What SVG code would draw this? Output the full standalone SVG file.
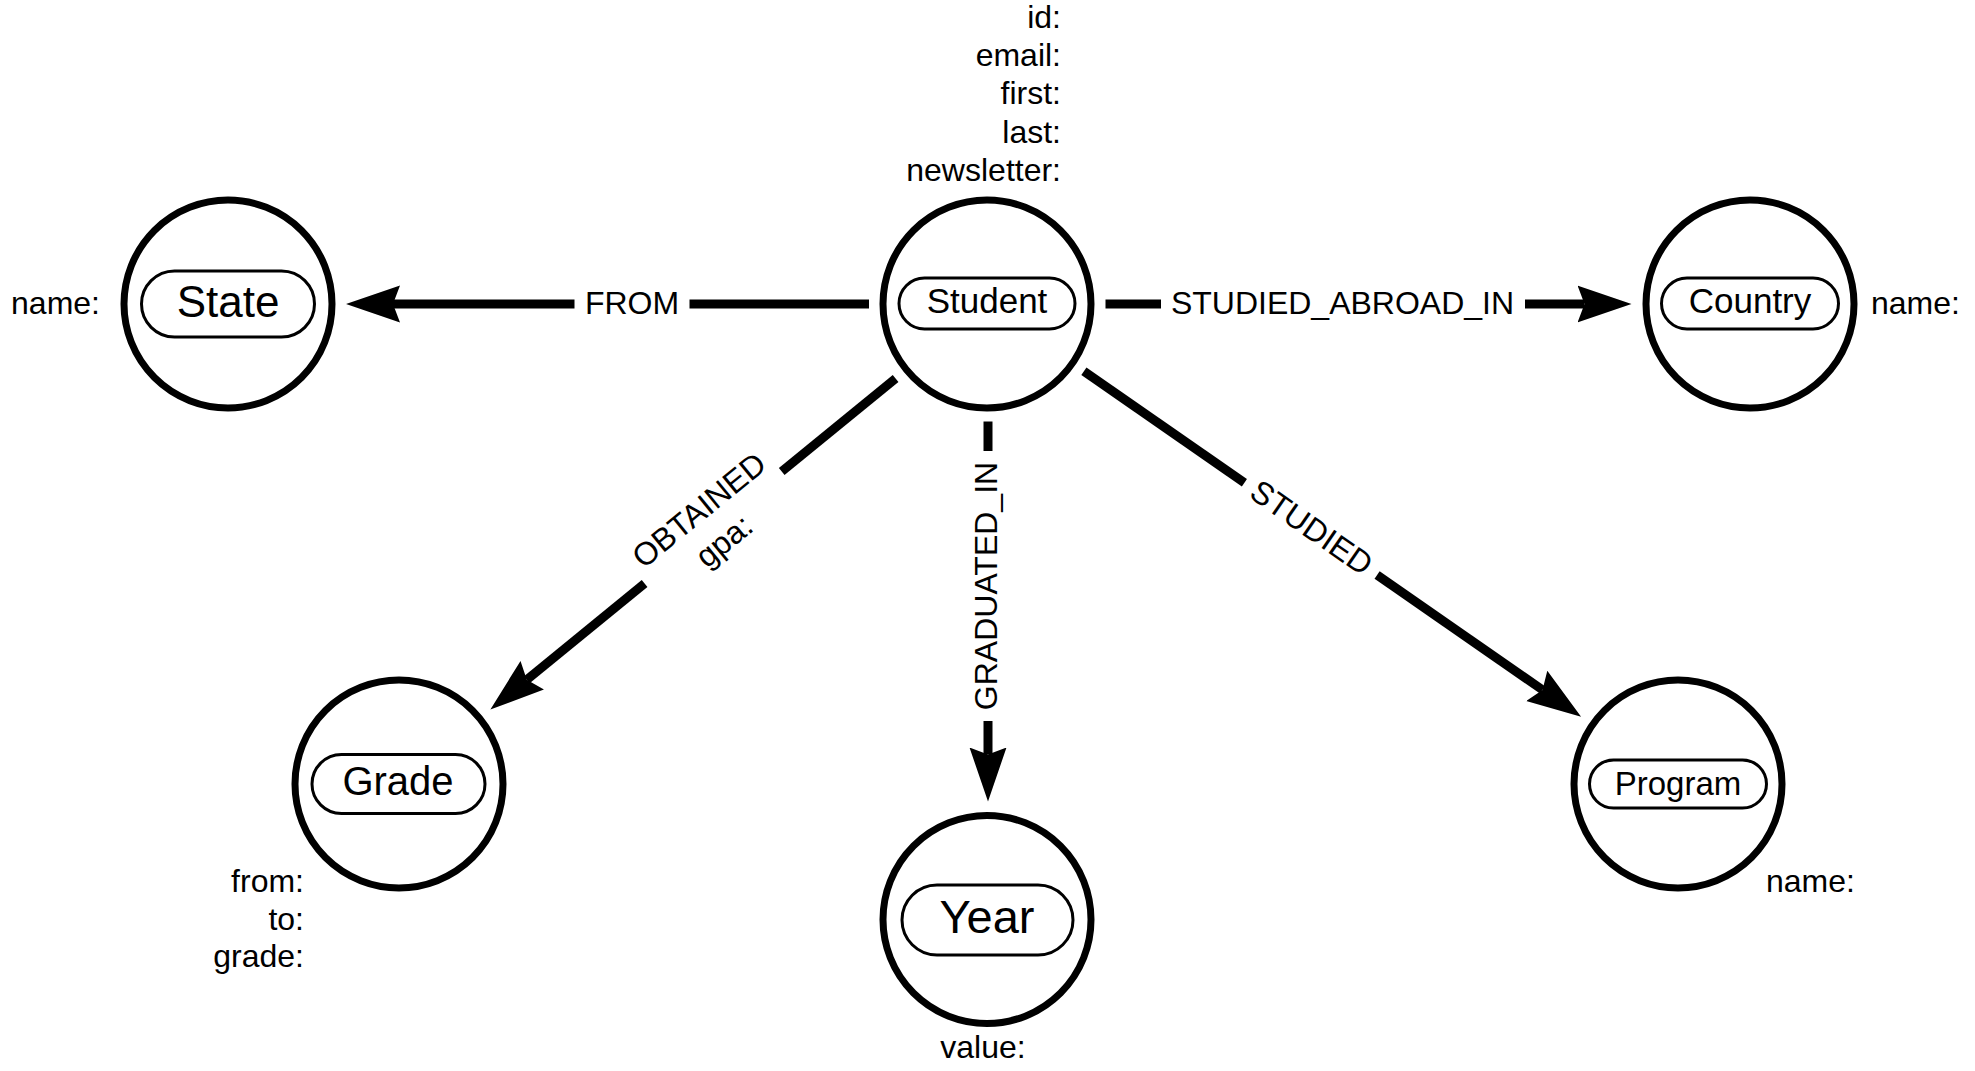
<svg xmlns="http://www.w3.org/2000/svg" width="1975" height="1071" viewBox="0 0 1975 1071">
<style>
  text { font-family: "Liberation Sans", Arial, sans-serif; fill: #000; }
  .ring { fill: #fff; stroke: #000; stroke-width: 7; }
  .pill { fill: #fff; stroke: #000; stroke-width: 3; }
  .prop { font-size: 32px; }
  .elbl { font-size: 32px; text-anchor: middle; }
  .edge { stroke: #000; stroke-width: 9; fill: none; stroke-linecap: butt; }
</style>
<defs>
  <marker id="arrow" markerUnits="userSpaceOnUse" markerWidth="56" markerHeight="40" viewBox="0 0 56 40" refX="7" refY="20" orient="auto">
    <path d="M0,1.5 L54,20 L0,38.5 L7,20 Z" fill="#000"/>
  </marker>
</defs>
<rect width="1975" height="1071" fill="#fff"/>

<g id="connectors">
  <g id="edge-from">
    <line class="edge" x1="869" y1="304" x2="689.5" y2="304"/>
    <line class="edge" x1="574.5" y1="304" x2="393" y2="304" marker-end="url(#arrow)"/>
    <text class="elbl" x="632" y="313.5">FROM</text>
  </g>
  <g id="edge-studied-abroad-in">
    <line class="edge" x1="1105.5" y1="304" x2="1161" y2="304"/>
    <line class="edge" x1="1525" y1="304" x2="1584.5" y2="304" marker-end="url(#arrow)"/>
    <text class="elbl" x="1342.5" y="313.5">STUDIED_ABROAD_IN</text>
  </g>
  <g id="edge-graduated-in">
    <line class="edge" x1="988" y1="421.5" x2="988" y2="451"/>
    <line class="edge" x1="988" y1="721" x2="988" y2="754.5" marker-end="url(#arrow)"/>
    <text class="elbl" x="988" y="595" transform="rotate(-90 988 586)">GRADUATED_IN</text>
  </g>
  <g id="edge-obtained">
    <line class="edge" x1="895.6" y1="378.6" x2="781.7" y2="471.6"/>
    <line class="edge" x1="644.6" y1="583.5" x2="526.8" y2="679.7" marker-end="url(#arrow)"/>
    <g transform="rotate(-39.23 713.2 527.5)">
      <text class="elbl" x="713.2" y="516">OBTAINED</text>
      <text class="elbl" x="713.2" y="555.5">gpa:</text>
    </g>
  </g>
  <g id="edge-studied">
    <line class="edge" x1="1083.9" y1="371.3" x2="1244.4" y2="482.8"/>
    <line class="edge" x1="1377.1" y1="575" x2="1542.5" y2="689.9" marker-end="url(#arrow)"/>
    <text class="elbl" x="1310.8" y="538.4" transform="rotate(34.79 1310.8 528.9)">STUDIED</text>
  </g>
</g>

<g id="node-state">
  <circle class="ring" cx="228" cy="304" r="104"/>
  <rect class="pill" x="141.5" y="271" width="173" height="66" rx="33"/>
  <text x="228" y="317" font-size="44" text-anchor="middle">State</text>
  <text class="prop" x="100" y="314" text-anchor="end">name:</text>
</g>

<g id="node-student">
  <circle class="ring" cx="987" cy="304" r="104"/>
  <rect class="pill" x="899" y="278" width="176" height="51" rx="25.5"/>
  <text x="987" y="313" font-size="35" text-anchor="middle">Student</text>
  <text class="prop" x="1061" y="27.5" text-anchor="end">id:</text>
  <text class="prop" x="1061" y="65.9" text-anchor="end">email:</text>
  <text class="prop" x="1061" y="104.3" text-anchor="end">first:</text>
  <text class="prop" x="1061" y="142.7" text-anchor="end">last:</text>
  <text class="prop" x="1061" y="181.1" text-anchor="end">newsletter:</text>
</g>

<g id="node-country">
  <circle class="ring" cx="1750" cy="304" r="104"/>
  <rect class="pill" x="1661.5" y="278" width="177" height="51" rx="25.5"/>
  <text x="1750" y="313" font-size="35" text-anchor="middle">Country</text>
  <text class="prop" x="1871" y="314">name:</text>
</g>

<g id="node-grade">
  <circle class="ring" cx="399" cy="784" r="104"/>
  <rect class="pill" x="312" y="754.5" width="173" height="59" rx="29.5"/>
  <text x="398" y="795" font-size="40" text-anchor="middle">Grade</text>
  <text class="prop" x="304" y="892" text-anchor="end">from:</text>
  <text class="prop" x="304" y="929.5" text-anchor="end">to:</text>
  <text class="prop" x="304" y="967" text-anchor="end">grade:</text>
</g>

<g id="node-year">
  <circle class="ring" cx="987" cy="919.5" r="104"/>
  <rect class="pill" x="902" y="885" width="171" height="70" rx="35"/>
  <text x="987" y="933" font-size="47" text-anchor="middle">Year</text>
  <text class="prop" x="983" y="1058" text-anchor="middle">value:</text>
</g>

<g id="node-program">
  <circle class="ring" cx="1678" cy="784" r="104"/>
  <rect class="pill" x="1589.5" y="760" width="177" height="48" rx="24"/>
  <text x="1678" y="794.5" font-size="33" text-anchor="middle">Program</text>
  <text class="prop" x="1766" y="892">name:</text>
</g>
</svg>
